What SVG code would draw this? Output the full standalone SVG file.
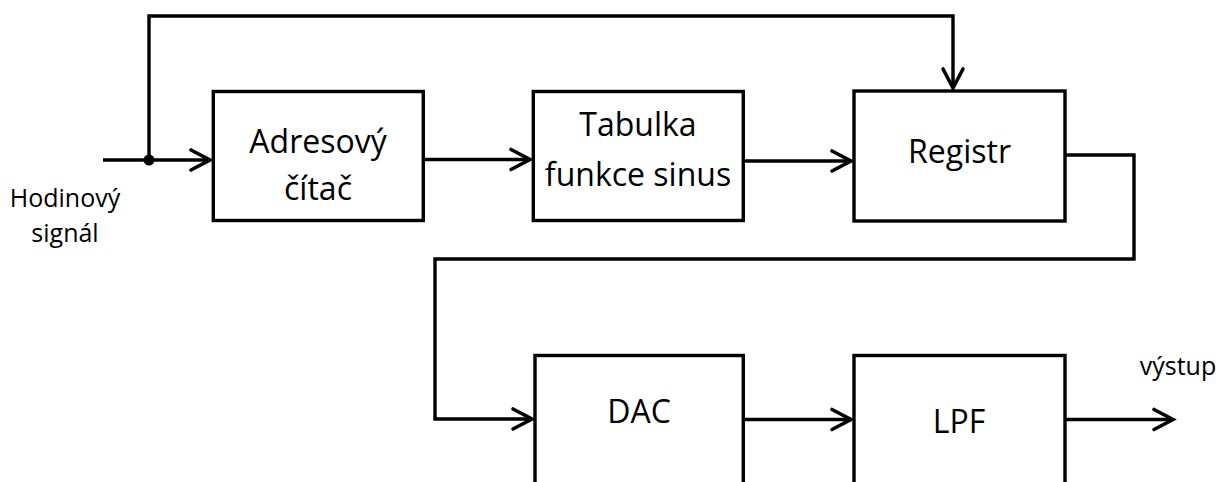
<svg xmlns="http://www.w3.org/2000/svg" width="1220" height="482" viewBox="0 0 1220 482">
  <style>
    .box { fill: #ffffff; stroke: #000000; stroke-width: 3.4; }
    .wire { fill: none; stroke: #000000; stroke-width: 3.4; stroke-linejoin: miter; }
    .label { font-family: "Open Sans", "Noto Sans", sans-serif; fill: #000000; text-anchor: middle; }
    .big { font-size: 32px; }
    .small { font-size: 25px; }
  </style>
  <defs>
    <marker id="arrow" markerUnits="userSpaceOnUse" viewBox="-22 -13 26 26" refX="0" refY="0" markerWidth="26" markerHeight="26" orient="auto">
      <path d="M -19 -10 L 0 0 L -19 10" fill="none" stroke="#000000" stroke-width="3.6" stroke-linecap="round" stroke-linejoin="miter"/>
    </marker>
  </defs>

  <!-- signal paths -->
  <g id="connectors">
    <path class="wire" d="M 103 160 L 210 160" marker-end="url(#arrow)"/>
    <path class="wire" d="M 149 160 L 149 16 L 953 16 L 953 88" marker-end="url(#arrow)"/>
    <circle cx="149" cy="160" r="5.5" fill="#000000"/>
    <path class="wire" d="M 423 159.5 L 530 159.5" marker-end="url(#arrow)"/>
    <path class="wire" d="M 743 161 L 851 161" marker-end="url(#arrow)"/>
    <path class="wire" d="M 1065 155 L 1134 155 L 1134 259 L 435 259 L 435 419 L 532 419" marker-end="url(#arrow)"/>
    <path class="wire" d="M 743 419.5 L 851 419.5" marker-end="url(#arrow)"/>
    <path class="wire" d="M 1065 419.5 L 1173 419.5" marker-end="url(#arrow)"/>
  </g>

  <g id="clock-input">
    <text class="label small" x="65" y="207">Hodinový</text>
    <text class="label small" x="65" y="242">signál</text>
  </g>

  <g id="address-counter">
    <rect class="box" x="213.3" y="91.5" width="210" height="129"/>
    <text class="label big" x="318" y="153">Adresový</text>
    <text class="label big" x="318" y="200">čítač</text>
  </g>

  <g id="sine-table">
    <rect class="box" x="533.3" y="91.5" width="210" height="129"/>
    <text class="label big" x="638" y="136">Tabulka</text>
    <text class="label big" x="638" y="186">funkce sinus</text>
  </g>

  <g id="register">
    <rect class="box" x="854" y="91" width="211" height="130"/>
    <text class="label big" x="959.5" y="163">Registr</text>
  </g>

  <g id="dac">
    <rect class="box" x="535" y="355.5" width="208.3" height="140"/>
    <text class="label big" x="639" y="423">DAC</text>
  </g>

  <g id="lpf">
    <rect class="box" x="854" y="355.5" width="211" height="140"/>
    <text class="label big" x="959" y="433">LPF</text>
  </g>

  <g id="output">
    <text class="label small" x="1178" y="375" font-size="24">výstup</text>
  </g>
</svg>
